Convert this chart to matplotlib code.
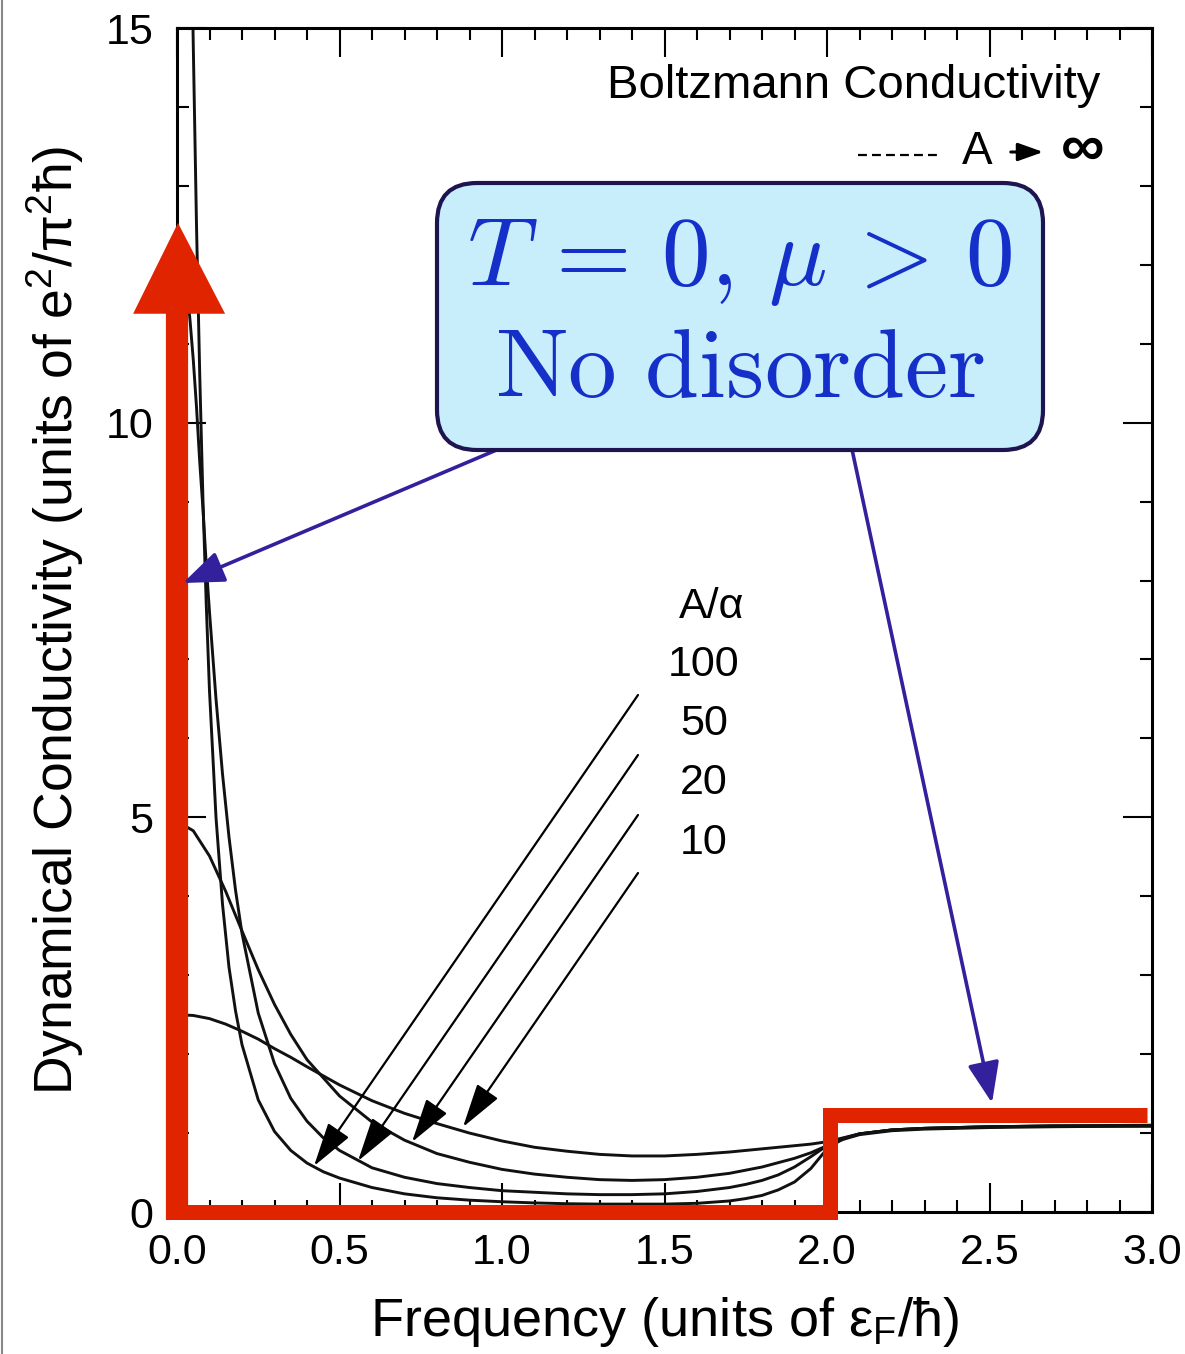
import matplotlib
matplotlib.use("Agg")
import matplotlib.pyplot as plt
from matplotlib.patches import FancyBboxPatch, Polygon
from matplotlib.lines import Line2D
from matplotlib.transforms import IdentityTransform
from matplotlib.ticker import MultipleLocator, FormatStrFormatter

plt.rcParams["font.family"] = ["Liberation Sans", "DejaVu Sans"]
plt.rcParams["mathtext.fontset"] = "custom"
plt.rcParams["mathtext.rm"] = "Liberation Sans"
plt.rcParams["mathtext.it"] = "Liberation Sans:italic"

W, H = 1185, 1354

# --- curves (frequency in eF/hbar, sigma in e^2/pi^2 hbar)
freq_wide = [0.0, 0.05, 0.1, 0.15, 0.2, 0.25, 0.3, 0.35, 0.4, 0.5, 0.6, 0.7,
             0.8, 0.9, 1.0, 1.1, 1.2, 1.3, 1.4, 1.5, 1.6, 1.7, 1.8, 1.9, 1.95,
             2.0, 2.05, 2.1, 2.2, 2.3, 2.5, 2.7, 3.0]
sigma_10 = [2.50, 2.49, 2.45, 2.38, 2.29, 2.19, 2.07, 1.96, 1.84, 1.61, 1.41,
            1.25, 1.12, 1.00, 0.90, 0.82, 0.77, 0.73, 0.71, 0.71, 0.73, 0.76,
            0.80, 0.84, 0.86, 0.89, 0.94, 0.99, 1.04, 1.06, 1.08, 1.09, 1.10]
sigma_20 = [4.95, 4.83, 4.51, 4.06, 3.56, 3.07, 2.63, 2.25, 1.93, 1.47, 1.14,
            0.91, 0.74, 0.63, 0.54, 0.48, 0.44, 0.41, 0.40, 0.41, 0.44, 0.49,
            0.57, 0.68, 0.75, 0.84, 0.92, 0.98, 1.03, 1.05, 1.07, 1.08, 1.09]

freq_fine = [0.0, 0.02, 0.04, 0.05, 0.06, 0.07, 0.08, 0.09, 0.1, 0.12, 0.14,
             0.16, 0.18, 0.2, 0.25, 0.3, 0.35, 0.4, 0.45, 0.5, 0.6, 0.7, 0.8,
             0.9, 1.0, 1.1, 1.2, 1.3, 1.4, 1.5, 1.6, 1.7, 1.75, 1.8, 1.85, 1.9,
             1.95, 2.0, 2.05, 2.1, 2.2, 2.3, 2.5, 2.7, 3.0]
sigma_50 = [12.5, 12.2, 11.3, 10.8, 10.2, 9.5, 8.9, 8.2, 7.6, 6.5, 5.55,
            4.75, 4.08, 3.53, 2.52, 1.88, 1.44, 1.15, 0.94, 0.78, 0.56, 0.44,
            0.36, 0.31, 0.27, 0.25, 0.23, 0.22, 0.22, 0.23, 0.26, 0.31, 0.35,
            0.40, 0.47, 0.57, 0.70, 0.84, 0.93, 0.99, 1.04, 1.06, 1.08, 1.09, 1.09]
sigma_100 = [25.0, 22.5, 17.3, 14.8, 12.5, 10.6, 9.0, 7.7, 6.6, 5.0, 3.9,
             3.1, 2.55, 2.12, 1.42, 1.02, 0.78, 0.62, 0.51, 0.43, 0.31, 0.23,
             0.18, 0.15, 0.13, 0.115, 0.105, 0.10, 0.10, 0.10, 0.11, 0.14, 0.17,
             0.21, 0.28, 0.38, 0.55, 0.80, 0.93, 0.99, 1.04, 1.06, 1.08, 1.09, 1.09]

# clean (no disorder) overlay: delta at zero plus step at 2 eF
clean_freq = [0.0, 2.008, 2.008, 2.985]
clean_sigma = [0.0, 0.0, 1.235, 1.235]
delta_top = 11.4

ratio_labels = ["100", "50", "20", "10"]

RED = "#e02400"
BLUE_TXT = "#1530c8"
INDIGO = "#33209c"


def fp(x, y):
    """image pixel (top-left origin) -> figure fraction"""
    return (x / W, 1 - y / H)


fig = plt.figure(figsize=(W / 100, H / 100), dpi=100)
ax = fig.add_axes([177 / W, 142 / H, 975 / W, 1184 / H])
ax.set_xlim(0, 3)
ax.set_ylim(0, 15)

for s, xs in [(sigma_10, freq_wide), (sigma_20, freq_wide),
              (sigma_50, freq_fine), (sigma_100, freq_fine)]:
    ax.plot(xs, s, color="#111111", lw=2.1, zorder=2)

# red overlay
ax.plot(clean_freq, clean_sigma, color=RED, lw=10.8, solid_joinstyle="miter",
        solid_capstyle="butt", clip_on=False, zorder=5)
ax.plot([0, 0], [-0.1, delta_top], color=RED, lw=16, solid_capstyle="butt",
        clip_on=False, zorder=5)
ax.add_patch(Polygon([(-0.135, 11.38), (0.148, 11.38), (0.003, 12.53)],
                     closed=True, fc=RED, ec="none", clip_on=False, zorder=5))

# axes styling
ax.xaxis.set_major_locator(MultipleLocator(0.5))
ax.xaxis.set_minor_locator(MultipleLocator(0.1))
ax.yaxis.set_major_locator(MultipleLocator(5))
ax.yaxis.set_minor_locator(MultipleLocator(1))
ax.xaxis.set_major_formatter(FormatStrFormatter("%.1f"))
ax.yaxis.set_major_formatter(FormatStrFormatter("%d"))
ax.tick_params(which="both", direction="in", top=True, right=True, width=1.5)
ax.tick_params(which="major", length=21, labelsize=31)
ax.tick_params(which="minor", length=8.5)
ax.tick_params(axis="x", pad=15)
ax.tick_params(axis="y", pad=17)
for sp in ax.spines.values():
    sp.set_linewidth(2.2)

ax.set_xlabel(r"Frequency (units of ε$_\mathrm{F}$/ħ)", fontsize=39, labelpad=16)
ax.set_ylabel(r"Dynamical Conductivity (units of e$^2$/π$^2$ħ)", fontsize=38.5,
              labelpad=14)

# legend texts
fig.text(*fp(1100, 86), "Boltzmann Conductivity", ha="right", va="center",
         fontsize=34)
fig.add_artist(Line2D([858 / W, 940 / W], [1 - 155 / H] * 2,
                      transform=fig.transFigure, color="k", lw=1.6,
                      ls=(0, (4, 2.3))))
fig.text(*fp(977, 152), "A", ha="center", va="center", fontsize=33)
ax.annotate("", xy=fp(1046, 152), xytext=fp(1008, 152),
            xycoords="figure fraction",
            arrowprops=dict(arrowstyle="-|>,head_length=0.7,head_width=0.25",
                            color="k", lw=2.2, mutation_scale=22))
fig.text(*fp(1083, 150), "∞", ha="center", va="center", fontsize=44,
         fontweight="bold")

fig.text(*fp(712, 607), "A/α", ha="center", va="center", fontsize=31)
label_y = [665, 724, 783, 843]
for lab, yy in zip(ratio_labels, label_y):
    fig.text(*fp(704, yy), lab, ha="center", va="center", fontsize=31)

# black pointer arrows
tails = [(638, 695), (638, 755), (638, 815), (638, 873)]
tips = [(314, 1166), (358, 1161), (412, 1142), (463, 1127)]
for t0, t1 in zip(tails, tips):
    ax.annotate("", xy=fp(*t1), xytext=fp(*t0), xycoords="figure fraction",
                arrowprops=dict(arrowstyle="-|>,head_length=1.25,head_width=0.36",
                                color="k", lw=1.6, mutation_scale=22,
                                shrinkA=0, shrinkB=0), zorder=3)

# blue arrows from the box
for t0, t1 in [((520, 440), (183, 583)), ((850, 440), (992, 1103))]:
    ax.annotate("", xy=fp(*t1), xytext=fp(*t0), xycoords="figure fraction",
                arrowprops=dict(arrowstyle="-|>,head_length=0.9,head_width=0.35",
                                color=INDIGO, lw=2.6, mutation_scale=28,
                                shrinkA=0, shrinkB=0), zorder=10)

# box
box = FancyBboxPatch((437, H - 450), 606, 267,
                     boxstyle="round,pad=0,rounding_size=40",
                     transform=IdentityTransform(), fc="#c8eefc",
                     ec="#1e1450", lw=3, zorder=1)
fig.add_artist(box)
fig.text(*fp(740, 262), r"$T\,=\,0,\,\mu\,>\,0$", math_fontfamily="cm",
         fontsize=70, color=BLUE_TXT, ha="center", va="center", zorder=3)
fig.text(*fp(740, 372), r"$\mathrm{No\ disorder}$", math_fontfamily="cm",
         fontsize=70, color=BLUE_TXT, ha="center", va="center", zorder=3)

# thin frame at the left edge of the screenshot
fig.add_artist(Line2D([2 / W, 2 / W], [0, 1], transform=fig.transFigure,
                      color="#888888", lw=1.5))

fig.savefig("out.png", dpi=100)
